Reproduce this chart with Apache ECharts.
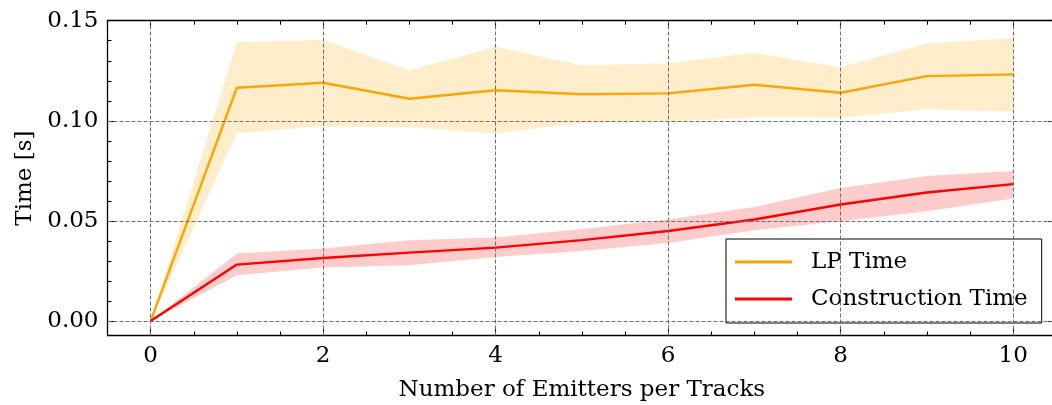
<!DOCTYPE html>
<html>
<head>
<meta charset="utf-8">
<script src="https://cdn.jsdelivr.net/npm/echarts@6/dist/echarts.min.js"></script>
<style>
html,body{margin:0;padding:0;background:#fff;}
#chart{width:1052px;height:405px;}
</style>
</head>
<body>
<div id="chart"></div>
<script>
// ---- data ----
const emitters = [0, 1, 2, 3, 4, 5, 6, 7, 8, 9, 10];
const lpMean  = [0, 0.1165, 0.1190, 0.1110, 0.1153, 0.1133, 0.1137, 0.1180, 0.1140, 0.1223, 0.1232];
const lpUpper = [0, 0.1392, 0.1403, 0.1253, 0.1370, 0.1278, 0.1287, 0.1340, 0.1267, 0.1387, 0.1413];
const lpLower = [0, 0.0938, 0.0973, 0.0968, 0.0937, 0.0990, 0.0995, 0.1017, 0.1015, 0.1058, 0.1045];
const ctMean  = [0, 0.0282, 0.0315, 0.0342, 0.0367, 0.0404, 0.0450, 0.0507, 0.0582, 0.0642, 0.0684];
const ctUpper = [0, 0.0337, 0.0362, 0.0404, 0.0417, 0.0460, 0.0507, 0.0570, 0.0665, 0.0724, 0.0750];
const ctLower = [0, 0.0229, 0.0267, 0.0279, 0.0320, 0.0350, 0.0390, 0.0454, 0.0499, 0.0549, 0.0612];
const xTicks = [0, 2, 4, 6, 8, 10];
const xMinorTicks = [0.5, 1, 1.5, 2.5, 3, 3.5, 4.5, 5, 5.5, 6.5, 7, 7.5, 8.5, 9, 9.5, 10.5];
const yTicks = [0, 0.05, 0.10, 0.15];
const yMinorTicks = [0.01, 0.02, 0.03, 0.04, 0.06, 0.07, 0.08, 0.09, 0.11, 0.12, 0.13, 0.14];
const seriesNames = ['LP Time', 'Construction Time'];
const xTitle = 'Number of Emitters per Tracks';
const yTitle = 'Time [s]';

const FONT = 'DejaVu Serif';
const FS = 23;
const X_MIN = -0.5, X_MAX = 10.5, Y_MIN = -0.0072, Y_MAX = 0.15;

function pairs(ys) { return emitters.map((x, i) => [x, ys[i]]); }
function bandData(lo, up) { return emitters.map((x, i) => [x, lo[i], up[i]]); }

function xAx(pos, ticks, len, showLine, showLabel, extra) {
  return Object.assign({
    type: 'value', position: pos, min: X_MIN, max: X_MAX,
    axisLine: { show: showLine, onZero: false, lineStyle: { color: '#000', width: 1.3 } },
    axisTick: { show: true, inside: true, length: len, customValues: ticks, lineStyle: { color: '#000', width: 1.1 } },
    axisLabel: { show: showLabel, customValues: ticks, fontFamily: FONT, fontSize: FS, color: '#000', margin: 9 },
    splitLine: { show: false }
  }, extra || {});
}
function yAx(pos, ticks, len, showLine, showLabel, extra) {
  return Object.assign({
    type: 'value', position: pos, min: Y_MIN, max: Y_MAX,
    axisLine: { show: showLine, onZero: false, lineStyle: { color: '#000', width: 1.3 } },
    axisTick: { show: true, inside: true, length: len, customValues: ticks, lineStyle: { color: '#000', width: 1.1 } },
    axisLabel: { show: showLabel, customValues: ticks, fontFamily: FONT, fontSize: FS, color: '#000', margin: 9,
      formatter: v => Number(v).toFixed(2) },
    splitLine: { show: false }
  }, extra || {});
}

function bandSeries(name, lo, up, color) {
  return {
    type: 'custom', name: name, silent: true, z: 2, clip: true,
    data: bandData(lo, up),
    encode: { x: 0, y: [1, 2] },
    renderItem: function (params, api) {
      if (params.dataIndex !== 0) return null;
      const pts = [];
      for (let i = 0; i < emitters.length; i++) pts.push(api.coord([emitters[i], up[i]]));
      for (let i = emitters.length - 1; i >= 0; i--) pts.push(api.coord([emitters[i], lo[i]]));
      return { type: 'polygon', shape: { points: pts }, style: { fill: color, stroke: null } };
    }
  };
}

const chart = echarts.init(document.getElementById('chart'), null, { renderer: 'canvas' });
const gridLineStyle = { color: '#6e6e6e', width: 1, type: [4, 2] };

chart.setOption({
  animation: false,
  backgroundColor: '#fff',
  grid: { left: 107.5, top: 20.7, right: -4.25, bottom: 69.5, containLabel: false, outerBoundsMode: 'none' },
  xAxis: [
    xAx('bottom', xTicks, 8, true, true, {
      name: xTitle, nameLocation: 'middle', nameGap: 43,
      nameTextStyle: { fontFamily: FONT, fontSize: FS, color: '#000' }
    }),
    xAx('bottom', xMinorTicks, 4, false, false),
    xAx('top', xTicks, 8, true, false),
    xAx('top', xMinorTicks, 4, false, false)
  ],
  yAxis: [
    yAx('left', yTicks, 8, true, true, {
      name: yTitle, nameLocation: 'middle', nameGap: 65, nameRotate: 90,
      nameTextStyle: { fontFamily: FONT, fontSize: FS, color: '#000' }
    }),
    yAx('left', yMinorTicks, 4, false, false),
    yAx('right', yTicks, 8, true, false),
    yAx('right', yMinorTicks, 4, false, false)
  ],
  legend: {
    data: seriesNames,
    orient: 'vertical',
    left: 726, top: 239,
    backgroundColor: '#fff',
    borderColor: '#000', borderWidth: 1, borderRadius: 0,
    padding: [10, 14, 11, 9],
    itemGap: 11,
    itemWidth: 57, itemHeight: 3,
    icon: 'rect',
    textStyle: { fontFamily: FONT, fontSize: FS, color: '#000', lineHeight: 26, padding: [0, 0, 0, 14] }
  },
  series: [
    {
      type: 'line', name: '_grid', data: [], silent: true, z: 1,
      markLine: {
        silent: true, symbol: ['none', 'none'], label: { show: false },
        lineStyle: gridLineStyle, animation: false,
        data: xTicks.map(v => ({ xAxis: v })).concat(yTicks.filter(v => v < Y_MAX).map(v => ({ yAxis: v })))
      }
    },
    bandSeries('_lpBand', lpLower, lpUpper, 'rgba(255,165,0,0.2)'),
    bandSeries('_ctBand', ctLower, ctUpper, 'rgba(255,0,0,0.2)'),
    {
      type: 'line', name: seriesNames[0], data: pairs(lpMean), showSymbol: false, z: 3,
      itemStyle: { color: '#FFA500' }, lineStyle: { color: '#FFA500', width: 2.4 }
    },
    {
      type: 'line', name: seriesNames[1], data: pairs(ctMean), showSymbol: false, z: 3,
      itemStyle: { color: '#FF0000' }, lineStyle: { color: '#FF0000', width: 2.4 }
    }
  ]
});
</script>
</body>
</html>
